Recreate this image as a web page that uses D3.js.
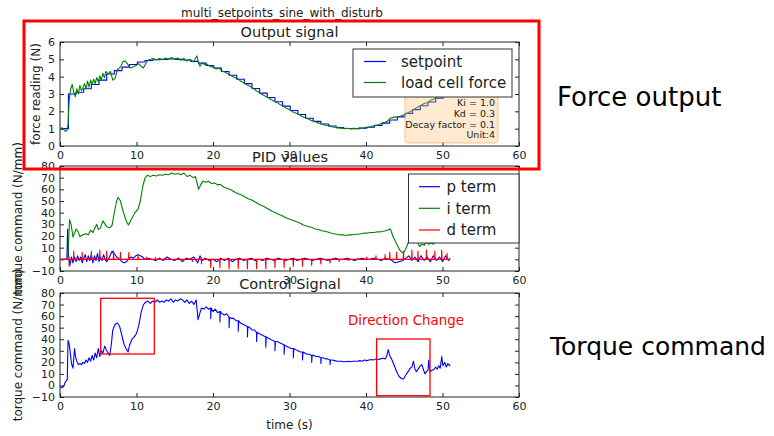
<!DOCTYPE html>
<html>
<head>
<meta charset="utf-8">
<script src="https://cdn.jsdelivr.net/npm/d3@7"></script>
<style>
  body { margin: 0; background: #fff; }
  text { font-family: "DejaVu Sans", sans-serif; }
</style>
</head>
<body>
<script>
// ---- data ----
var xTicks = [0, 10, 20, 30, 40, 50, 60];
var forceTicks = [0, 1, 2, 3, 4, 5, 6];
var torqueTicks = [-10, 0, 10, 20, 30, 40, 50, 60, 70, 80];

// setpoint (N), staircase [time, value]
var setpoint = [[0,1.0],[1.1,3.0],[2.1,3.1],[3.1,3.3],[4.1,3.55],[5.1,3.8],[6.1,4.15],[7.1,4.35],[8.1,4.55],
  [9.1,4.7],[10.1,4.85],[11.1,4.93],[12.1,4.98],[13.1,5.0],[14.1,5.02],[15.1,5.0],[16.1,4.96],[17.1,4.88],
  [18.1,4.78],[19.1,4.64],[20.1,4.5],[21.1,4.3],[22.1,4.08],[23.1,3.85],[24.1,3.6],[25.1,3.32],[26.1,3.05],
  [27.1,2.8],[28.1,2.55],[29.1,2.3],[30.1,2.05],[31.1,1.82],[32.1,1.6],[33.1,1.42],[34.1,1.27],[35.1,1.15],
  [36.1,1.06],[37.1,1.01],[38.1,1.0],[39.1,1.02],[40.1,1.08],[41.1,1.18],[42.1,1.32],[43.1,1.5],[44.1,1.68],
  [45.1,1.88],[46.1,2.1],[47.1,2.32],[48.1,2.54],[49.1,2.76],[50.1,2.98],[51.0,2.98]];

// load cell force (N)
var loadForce = [[0,1.0],[0.3,1.05],[0.5,0.95],[0.7,0.85],[0.9,0.9],[1.05,1.2],[1.2,2.6],[1.4,3.3],[1.6,3.55],
  [1.8,3.1],[2.0,2.85],[2.2,3.3],[2.4,3.0],[2.6,3.5],[2.8,3.2],[3.0,3.35],[3.2,3.6],[3.4,3.3],[3.6,3.75],
  [3.8,3.4],[4.0,3.8],[4.2,3.55],[4.4,3.85],[4.6,3.6],[4.8,3.95],[5.0,3.7],[5.2,4.05],[5.4,3.8],[5.6,4.2],
  [5.8,3.95],[6.0,4.3],[6.3,4.15],[6.6,4.3],[6.9,3.8],[7.2,3.9],[7.5,4.4],[7.9,4.55],[8.25,4.88],[8.5,4.9],
  [8.8,4.75],[9.1,4.55],[9.3,4.5],[9.7,4.6],[10.0,4.65],[10.3,4.75],[10.6,4.6],[10.9,4.5],[11.2,4.75],
  [11.5,4.95],[11.8,5.0],[12.2,5.05],[12.6,4.98],[13.0,5.05],[13.4,4.98],[13.8,5.08],[14.2,5.0],[14.6,5.1],
  [15.0,5.0],[15.4,5.08],[15.8,4.95],[16.2,5.05],[16.6,4.9],[17.0,5.0],[17.4,4.85],[17.7,5.05],[17.9,5.2],
  [18.1,4.8],[18.3,4.6],[18.6,4.8],[18.9,4.7],[19.2,4.72],[19.6,4.6],[20.0,4.55],[20.4,4.45],[20.8,4.5],
  [21.2,4.32],[21.6,4.25],[22.0,4.15],[22.4,4.05],[22.8,3.95],[23.2,3.9],[23.6,3.75],[24.0,3.65],[24.4,3.55],
  [24.8,3.45],[25.2,3.35],[25.6,3.2],[26.0,3.1],[26.4,2.98],[26.8,2.88],[27.2,2.8],[27.6,2.68],[28.0,2.58],
  [28.4,2.5],[28.8,2.38],[29.2,2.3],[29.6,2.18],[30.0,2.1],[30.4,1.98],[30.8,1.9],[31.2,1.83],[31.6,1.72],
  [32.0,1.65],[32.4,1.57],[32.8,1.48],[33.2,1.43],[33.6,1.35],[34.0,1.3],[34.4,1.24],[34.8,1.18],[35.2,1.16],
  [35.6,1.1],[36.0,1.08],[36.4,1.04],[36.8,1.03],[37.2,1.0],[37.6,1.02],[38.0,0.99],[38.4,1.02],[38.8,1.0],
  [39.2,1.05],[39.6,1.03],[40.0,1.08],[40.4,1.1],[40.8,1.14],[41.2,1.2],[41.6,1.22],[42.0,1.3],[42.4,1.36],
  [42.8,1.42],[43.2,1.62],[43.6,1.65],[44.0,1.68],[44.4,1.7],[44.8,1.78],[45.2,1.85],[45.6,1.95],[46.0,2.05],
  [46.4,2.15],[46.8,2.25],[47.2,2.35],[47.6,2.45],[48.0,2.5],[48.4,2.62],[48.8,2.7],[49.2,2.8],[49.6,2.88],
  [50.0,2.95],[50.4,3.0],[50.8,3.05],[51.0,3.02]];

// PID terms
var pTerm = [[0,0],[0.9,0],[1.0,26],[1.1,5],[1.3,-5],[1.5,2],[1.7,-3],[1.9,2],[2.1,-2],[2.3,3],[2.5,-1],[2.7,2],
  [2.9,-3],[3.1,1],[3.3,4],[3.5,-2],[3.7,3],[3.9,-1],[4.1,4],[4.3,-3],[4.5,3],[4.7,-1],[4.9,5],[5.1,-2],[5.3,2],
  [5.5,-1],[5.7,4],[5.9,0],[6.1,-2],[6.4,1],[6.8,7],[7.1,5],[7.4,2],[7.8,0],[8.1,-2],[8.4,-3],[8.7,-2],[9.0,1],
  [9.3,2],[9.6,1],[9.9,3],[10.2,4],[10.5,3],[10.8,2],[11.1,0],[11.5,1],[12,0],[12.5,-1],[13,1],[13.5,-1],[14,2],
  [14.5,0],[15,-1],[15.5,1],[16,-2],[16.5,1],[17,0],[17.5,2],[18,-3],[18.3,3],[18.6,-1],[19,1],[19.5,-1],[20,0],
  [20.5,-2],[21,1],[21.5,-1],[22,1],[22.5,-2],[23,0],[23.5,1],[24,-1],[24.5,0],[25,1],[25.5,-1],[26,0],[26.5,-1],
  [27,1],[27.5,0],[28,-1],[28.5,1],[29,0],[29.5,-1],[30,0],[30.5,1],[31,-1],[31.5,0],[32,1],[32.5,0],[33,-1],
  [33.5,0],[34,1],[34.5,0],[35,-1],[35.5,0],[36,1],[36.5,0],[37,0],[37.5,1],[38,0],[38.5,-1],[39,0],[39.5,1],
  [40,0],[40.5,0],[41,1],[41.5,0],[42,-1],[42.5,1],[43,0],[43.4,-1],[43.8,-3],[44.3,-2],[44.8,-1],[45.2,1],
  [45.6,3],[46,-1],[46.4,2],[46.8,-2],[47.2,3],[47.6,-1],[48,2],[48.4,-2],[48.8,3],[49.2,-1],[49.6,2],[50,-2],
  [50.4,3],[50.8,-1],[51,1]];

var iTerm = [[0,0],[0.9,0],[1.05,5],[1.25,34],[1.45,30],[1.7,19],[2.1,26],[2.35,24],[2.6,19.5],[3.0,21],[3.4,22],
  [3.7,21],[4.0,25],[4.3,23],[4.5,26],[4.8,30],[5.0,25.5],[5.3,27],[5.6,33],[5.8,31],[6.1,28],[6.5,27],[6.8,29],
  [7.1,40],[7.4,50],[7.6,53],[7.9,50],[8.3,40],[8.7,32],[8.95,29.5],[9.3,34],[9.8,40],[10.2,43],[10.5,50],
  [10.8,62],[11.1,69.5],[11.4,72],[11.8,71],[12.2,72],[12.6,71.5],[13.0,72.5],[13.4,72],[13.8,73],[14.2,72.5],
  [14.6,74],[15.0,73],[15.4,73.5],[15.8,72.5],[16.2,74],[16.6,71],[17.0,72],[17.4,70],[17.7,71],[17.9,66],
  [18.1,60],[18.4,64],[18.7,67],[19.0,66],[19.4,67],[19.8,65],[20.2,65.5],[20.6,64],[21.0,64],[21.4,62],[21.8,61],
  [22.2,60],[22.6,58.5],[23.0,57],[23.4,56],[23.8,55],[24.2,53.5],[24.6,52],[25.0,51],[25.4,49.5],[25.8,48],
  [26.2,46.5],[26.6,45.5],[27.0,44],[27.4,42.5],[27.8,41],[28.2,40],[28.6,38.5],[29.0,37.5],[29.4,36],[29.8,35],
  [30.2,34],[30.6,33],[31.0,32],[31.4,31],[31.8,29.5],[32.2,28.5],[32.6,28],[33.0,27],[33.4,26],[33.8,25.5],
  [34.2,24.5],[34.6,24],[35.0,23.5],[35.4,22.5],[35.8,22],[36.2,21.5],[36.6,21],[37.0,21],[37.4,20.5],[37.8,21],
  [38.2,21],[38.6,21.5],[39.0,21.5],[39.4,22],[39.8,22.5],[40.2,22.5],[40.6,23],[41.0,23],[41.4,23.5],[41.8,23.5],
  [42.2,24],[42.6,24.5],[43.0,25.5],[43.2,26],[43.5,20],[43.8,16],[44.1,12],[44.4,8],[44.7,6],[44.9,5.5],[45.2,9],
  [45.5,14],[45.8,20],[46.1,19],[46.4,17],[46.7,15],[47.0,11],[47.3,13],[47.6,12],[47.9,15],[48.2,13],[48.5,14],
  [48.8,13],[49.1,15],[49.4,16],[49.7,17],[50.0,17],[50.4,18],[50.8,18],[51.0,18]];

// d term is flat at zero apart from spikes [time, height]
var dSpikes = [[1.2,-6],[1.8,7],[2.9,6],[4.1,7],[5.2,8],[6.1,7],[7.0,7],[7.9,6],[9.0,6],[10.2,4],[11.3,2],
  [12.5,1.5],[13.7,1],[14.9,-1],[16.1,-1.5],[17.3,-2],[18.5,-4],[19.7,-7],[20.9,-7],[22.1,-8],[23.3,-8],[24.5,-8],
  [25.7,-8],[26.9,-8],[28.1,-7],[29.3,-7],[30.5,-6],[31.7,-6],[32.9,-5],[34.1,-4],[35.3,-3],[36.5,-2],[37.7,-1],
  [38.9,1],[40.1,2],[41.3,3],[42.5,4],[43.1,6],[44.0,6],[44.9,7],[46.0,8],[46.8,7],[47.9,8],[49.0,7],[49.9,8],[50.6,5]];

// control signal (torque command)
var control = [[0,-1],[0.25,-2],[0.5,-0.5],[0.7,3],[0.95,5],[1.05,39],[1.2,36],[1.35,28],[1.5,19],[1.7,15],[1.9,32],
  [2.05,24],[2.2,21],[2.4,18],[2.6,19],[2.8,18],[3.0,20],[3.2,19],[3.4,22],[3.6,20],[3.8,24],[4.0,21],[4.2,26],
  [4.4,22],[4.6,28],[4.8,24],[5.0,32],[5.2,25],[5.4,30],[5.6,28],[5.85,34],[6.1,30],[6.3,28],[6.5,26],[6.7,35],
  [6.9,48],[7.2,53],[7.5,54],[7.8,51],[8.1,43],[8.4,35],[8.7,31],[8.9,29],[9.1,35],[9.4,40],[9.7,42],[10.0,45],
  [10.3,52],[10.6,63],[10.9,70],[11.2,72],[11.5,73],[11.8,71],[12.1,73],[12.4,72],[12.7,74],[13.0,72],[13.3,73],
  [13.6,72],[13.9,74],[14.2,73],[14.5,75],[14.8,72],[15.1,74],[15.4,73],[15.7,75],[16.0,74],[16.3,72],[16.6,74],
  [16.9,71],[17.2,73],[17.5,70],[17.8,74],[18.05,57],[18.3,63],[18.5,67],[18.8,66],[19.1,68],[19.4,66],[19.7,67],
  [20.0,64],[20.3,66],[20.6,63],[20.9,64],[21.2,62],[21.5,61],[21.8,62],[22.1,59],[22.4,58],[22.7,58],[23.0,56],
  [23.3,56],[23.6,54],[23.9,53],[24.2,52],[24.5,51],[24.8,50],[25.1,48],[25.4,48],[25.7,46],[26.0,45],[26.3,44],
  [26.6,43],[26.9,42],[27.2,41],[27.5,40],[27.8,39],[28.1,38],[28.4,38],[28.7,37],[29.0,36],[29.3,35],[29.6,34],
  [29.9,33],[30.2,32],[30.5,32],[30.8,31],[31.1,30],[31.4,29],[31.7,29],[32.0,28],[32.3,27],[32.6,27],[32.9,26],
  [33.2,26],[33.5,25],[33.8,25],[34.1,24],[34.4,24],[34.7,23],[35.0,23],[35.3,22],[35.6,22],[35.9,21.5],[36.2,21],
  [36.5,21],[36.8,21],[37.1,20.5],[37.4,20.5],[37.7,21],[38.0,20.5],[38.3,21],[38.6,21],[38.9,21],[39.2,21.5],
  [39.5,21],[39.8,22],[40.1,21.5],[40.4,22],[40.7,22.5],[41.0,22],[41.3,23],[41.6,22.5],[41.9,23],[42.2,23.5],
  [42.5,23],[42.7,25],[42.9,31],[43.1,26],[43.4,22],[43.7,17],[44.0,12],[44.3,8],[44.6,6],[44.9,5.5],[45.2,9],
  [45.5,12],[45.8,15],[46.0,16],[46.2,21],[46.4,14],[46.6,12],[46.9,15],[47.1,17],[47.3,18],[47.5,14],[47.7,10],
  [47.9,12],[48.1,13],[48.2,22],[48.35,12],[48.6,13],[48.9,14],[49.1,16],[49.3,14],[49.5,17],[49.7,15],[49.9,25],
  [50.05,17],[50.3,20],[50.5,16],[50.7,19],[50.9,17],[51.0,18]];

// downward spikes in the control signal [time, base, tip]
var controlSpikes = [[19.7,67,58],[20.9,64,55],[22.1,59,50],[23.3,56,47],[24.5,51,42],[25.7,46,38],[26.9,42,33],
  [28.1,38,30],[29.3,35,27],[30.5,32,24],[31.7,29,22],[32.9,26,20],[34.1,24,19],[35.3,22,18]];

var gains = ['Ki = 1.0', 'Kd = 0.3', 'Decay factor = 0.1', 'Unit:4'];

// ---- svg ----
var width = 774, height = 436;
var svg = d3.select('body').append('svg')
  .attr('width', width)
  .attr('height', height);

var x = d3.scaleLinear().domain([0, 60]).range([60, 519]);
var yForce = d3.scaleLinear().domain([0, 6]).range([146, 42]);
var yPid = d3.scaleLinear().domain([-10, 80]).range([271, 166]);
var yCtrl = d3.scaleLinear().domain([-10, 80]).range([397, 293]);

// inward ticks on all four sides, like the old matplotlib style
function drawAxes(y, yTicks, id) {
  var top = y.range()[1], bottom = y.range()[0];
  var g = svg.append('g');
  var fmt = d3.format('d');
  var axes = [
    g.append('g').attr('transform', 'translate(0,' + bottom + ')')
      .call(d3.axisBottom(x).tickValues(xTicks).tickSizeInner(-4).tickSizeOuter(0).tickPadding(5).tickFormat(fmt)),
    g.append('g').attr('transform', 'translate(0,' + top + ')')
      .call(d3.axisTop(x).tickValues(xTicks).tickSizeInner(-4).tickSizeOuter(0).tickFormat('')),
    g.append('g').attr('transform', 'translate(60,0)')
      .call(d3.axisLeft(y).tickValues(yTicks).tickSizeInner(-4).tickSizeOuter(0).tickPadding(5).tickFormat(fmt)),
    g.append('g').attr('transform', 'translate(519,0)')
      .call(d3.axisRight(y).tickValues(yTicks).tickSizeInner(-4).tickSizeOuter(0).tickFormat(''))
  ];
  axes.forEach(function(a) {
    a.select('.domain').remove();
    a.selectAll('text').attr('font-size', 11).attr('font-family', 'DejaVu Sans').attr('fill', '#222');
    a.selectAll('line').attr('stroke', '#222');
  });
  g.append('rect')
    .attr('x', 60).attr('y', top)
    .attr('width', 459).attr('height', bottom - top)
    .attr('fill', 'none').attr('stroke', '#222').attr('stroke-width', 1);

  svg.append('clipPath').attr('id', id)
    .append('rect').attr('x', 60).attr('y', top).attr('width', 459).attr('height', bottom - top);
}

function lineFor(y) {
  return d3.line().x(function(d) { return x(d[0]); }).y(function(d) { return y(d[1]); });
}

function plotLine(pts, y, color, clip, curve) {
  var l = lineFor(y);
  if (curve) l.curve(curve);
  svg.append('path')
    .attr('clip-path', 'url(#' + clip + ')')
    .attr('d', l(pts))
    .attr('fill', 'none')
    .attr('stroke', color)
    .attr('stroke-width', 1.1)
    .attr('stroke-linejoin', 'round');
}

function addText(t, px, py, size, opts) {
  opts = opts || {};
  var el = svg.append('text')
    .attr('x', px).attr('y', py)
    .attr('font-size', size)
    .attr('text-anchor', opts.anchor || 'middle')
    .attr('fill', opts.fill || '#222')
    .text(t);
  if (opts.family) el.attr('font-family', opts.family);
  if (opts.rotate) el.attr('transform', 'rotate(-90,' + px + ',' + py + ')').attr('dy', '0.35em');
  return el;
}

function legend(x0, y0, w, h, items, sampleX, textX, rowY) {
  var g = svg.append('g');
  g.append('rect').attr('x', x0).attr('y', y0).attr('width', w).attr('height', h)
    .attr('fill', '#fff').attr('stroke', '#333').attr('stroke-width', 1);
  items.forEach(function(it, i) {
    var cy = rowY[i];
    g.append('line').attr('x1', sampleX[0]).attr('x2', sampleX[1]).attr('y1', cy).attr('y2', cy)
      .attr('stroke', it[1]).attr('stroke-width', 1.2);
    g.append('text').attr('x', textX).attr('y', cy).attr('dy', '0.35em')
      .attr('font-size', 15).attr('fill', '#222').text(it[0]);
  });
}

// ---- titles ----
addText('multi_setpoints_sine_with_disturb', 282, 17, 12);

// ---- force output ----
drawAxes(yForce, forceTicks, 'clipForce');
addText('Output signal', 289.5, 37, 14.5);
addText('force reading (N)', 36, 94, 12, { rotate: true });
plotLine(setpoint, yForce, '#0000ff', 'clipForce', d3.curveStepAfter);
plotLine(loadForce, yForce, '#008000', 'clipForce');

// gains box (semi transparent, drawn over the lines, under the legend)
svg.append('rect')
  .attr('x', 405).attr('y', 84).attr('width', 93).attr('height', 59)
  .attr('rx', 3).attr('ry', 3)
  .attr('fill', 'rgb(250,190,110)').attr('fill-opacity', 0.32)
  .attr('stroke', 'rgb(245,175,90)').attr('stroke-opacity', 0.7).attr('stroke-width', 1);
gains.forEach(function(t, i) {
  addText(t, 495, 106 + i * 10.8, 9.5, { anchor: 'end' });
});

legend(353, 49, 159, 48, [['setpoint', '#0000ff'], ['load cell force', '#008000']],
  [364, 386], 401, [61.5, 82.5]);

// ---- PID values ----
drawAxes(yPid, torqueTicks, 'clipPid');
addText('PID values', 290, 162, 14.5);

var dPoints = [[0, 0], [51, 0]];
dSpikes.forEach(function(s) { dPoints.push([s[0] - 0.04, 0], [s[0], s[1]], [s[0] + 0.04, 0]); });
dPoints.sort(function(a, b) { return a[0] - b[0]; });

plotLine(pTerm, yPid, '#0000ff', 'clipPid');
plotLine(iTerm, yPid, '#008000', 'clipPid');
plotLine(dPoints, yPid, '#ff0000', 'clipPid');

legend(408.5, 174, 110.5, 69, [['p term', '#0000ff'], ['i term', '#008000'], ['d term', '#ff0000']],
  [419, 440], 446.5, [186.7, 208.3, 230]);

// ---- control signal ----
drawAxes(yCtrl, torqueTicks, 'clipCtrl');
addText('Control Signal', 290, 288.5, 14.5);
addText('time (s)', 289.5, 429, 12);

var ctrlPoints = control.slice();
controlSpikes.forEach(function(s) { ctrlPoints.push([s[0] - 0.02, s[1]], [s[0], s[2]], [s[0] + 0.06, s[1]]); });
ctrlPoints.sort(function(a, b) { return a[0] - b[0]; });
plotLine(ctrlPoints, yCtrl, '#0000ff', 'clipCtrl');

// y labels of the two torque panels overlap, as in the figure
addText('torque command (N/mm)', 18, 218.5, 12, { rotate: true });
addText('torque command (N/mm)', 18, 345, 12, { rotate: true });

// ---- slide annotations ----
svg.append('rect').attr('x', 24).attr('y', 21).attr('width', 515).attr('height', 148)
  .attr('fill', 'none').attr('stroke', '#ff0000').attr('stroke-width', 3);

svg.append('rect').attr('x', 100.7).attr('y', 298.3).attr('width', 53.6).attr('height', 55.7)
  .attr('fill', 'none').attr('stroke', '#ff0000').attr('stroke-width', 1.3);
svg.append('rect').attr('x', 376.6).attr('y', 339).attr('width', 53.4).attr('height', 56.7)
  .attr('fill', 'none').attr('stroke', '#ff0000').attr('stroke-width', 1.3);

addText('Direction Change', 348, 325, 13.4, { anchor: 'start', fill: '#ff0000', family: 'Liberation Sans' });
addText('Force output', 557, 106, 26, { anchor: 'start', fill: '#000', family: 'Liberation Sans' });
addText('Torque command', 550, 355, 25, { anchor: 'start', fill: '#000', family: 'Liberation Sans' });
</script>
</body>
</html>
